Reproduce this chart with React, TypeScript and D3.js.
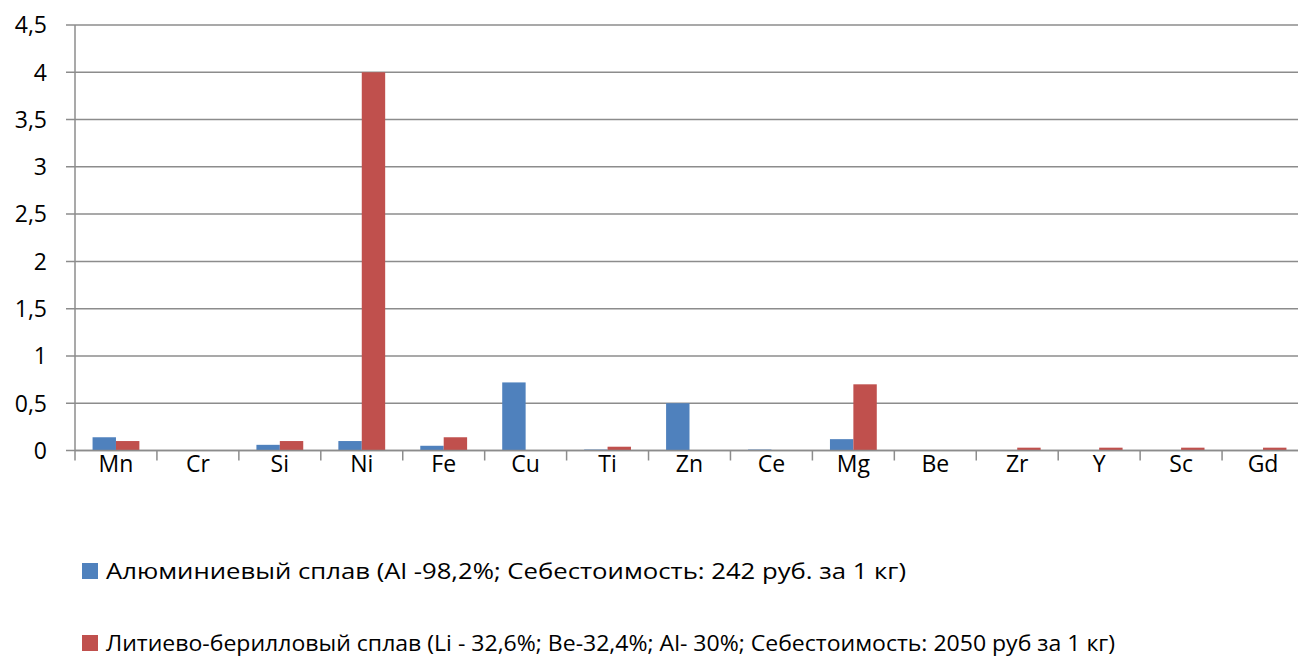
import { scaleBand, scaleLinear } from "d3";

const categories = ["Mn", "Cr", "Si", "Ni", "Fe", "Cu", "Ti", "Zn", "Ce", "Mg", "Be", "Zr", "Y", "Sc", "Gd"];
const aluminumValues = [0.14, 0, 0.06, 0.1, 0.05, 0.72, 0.01, 0.5, 0.01, 0.12, 0, 0, 0, 0, 0];
const lithiumValues = [0.1, 0, 0.1, 4, 0.14, 0, 0.04, 0, 0, 0.7, 0, 0.03, 0.03, 0.03, 0.03];
const yTicks = [0, 0.5, 1, 1.5, 2, 2.5, 3, 3.5, 4, 4.5];
const seriesNames = [
  "Алюминиевый сплав (Al -98,2%; Себестоимость: 242 руб. за 1 кг)",
  "Литиево-берилловый сплав (Li - 32,6%; Be-32,4%; Al- 30%; Себестоимость: 2050 руб за 1 кг)",
];
const colors = ["#4F81BD", "#C0504D"];

const W = 1298;
const H = 659;
const left = 75;
const right = 1304;
const top = 25;
const bottom = 450.5;
const font = "'Open Sans', 'Noto Sans', sans-serif";
const grid = "#8C8C8C";
const legendWidths = [800, 1009];

export default function App() {
  const x = scaleBand().domain(categories).range([left, right]).paddingInner(0).paddingOuter(0);
  const band = x.bandwidth();
  const barW = band / 3.5;
  const y = scaleLinear().domain([0, 4.5]).range([bottom, top]);
  const series = [aluminumValues, lithiumValues];

  return (
    <svg
      width={W}
      height={H}
      style={{ position: "absolute", left: 0, top: 0, background: "#fff" }}
      fontFamily={font}
    >
      <rect width={W} height={H} fill="#fff" />
      {/* gridlines */}
      {yTicks.map((t) => (
        <g key={t}>
          <line x1={66} x2={right} y1={y(t)} y2={y(t)} stroke={grid} strokeWidth={1.5} />
          <text x={47} y={y(t)} dy="0.36em" textAnchor="end" fontSize={23} fill="#000">
            {String(t).replace(".", ",")}
          </text>
        </g>
      ))}
      {/* y axis */}
      <line x1={left} x2={left} y1={top} y2={bottom + 10} stroke={grid} strokeWidth={1.5} />
      {/* category ticks */}
      {categories.map((c) => (
        <line
          key={c}
          x1={x(c)! + band}
          x2={x(c)! + band}
          y1={bottom}
          y2={bottom + 10}
          stroke={grid}
          strokeWidth={1.5}
        />
      ))}
      {/* bars */}
      {series.map((vals, si) =>
        vals.map((v, i) => {
          if (v <= 0) return null;
          const bx = x(categories[i])! + band * 0.75 / 3.5 + si * barW;
          return (
            <rect
              key={`${si}-${i}`}
              x={bx}
              y={y(v)}
              width={barW}
              height={bottom - y(v)}
              fill={colors[si]}
            />
          );
        })
      )}
      <line x1={left} x2={right} y1={bottom} y2={bottom} stroke={grid} strokeWidth={1.5} />
      {/* category labels */}
      {categories.map((c) => (
        <text key={c} x={x(c)! + band / 2} y={464} dy="0.36em" textAnchor="middle" fontSize={23} fill="#000">
          {c}
        </text>
      ))}
      {/* legend */}
      {seriesNames.map((name, i) => (
        <g key={name} transform={`translate(82, ${563 + i * 72})`}>
          <rect width={16} height={16} fill={colors[i]} />
          <text
            x={24}
            y={8}
            dy="0.36em"
            fontSize={22}
            fill="#000"
            textLength={legendWidths[i]}
            lengthAdjust="spacingAndGlyphs"
          >
            {name}
          </text>
        </g>
      ))}
    </svg>
  );
}
